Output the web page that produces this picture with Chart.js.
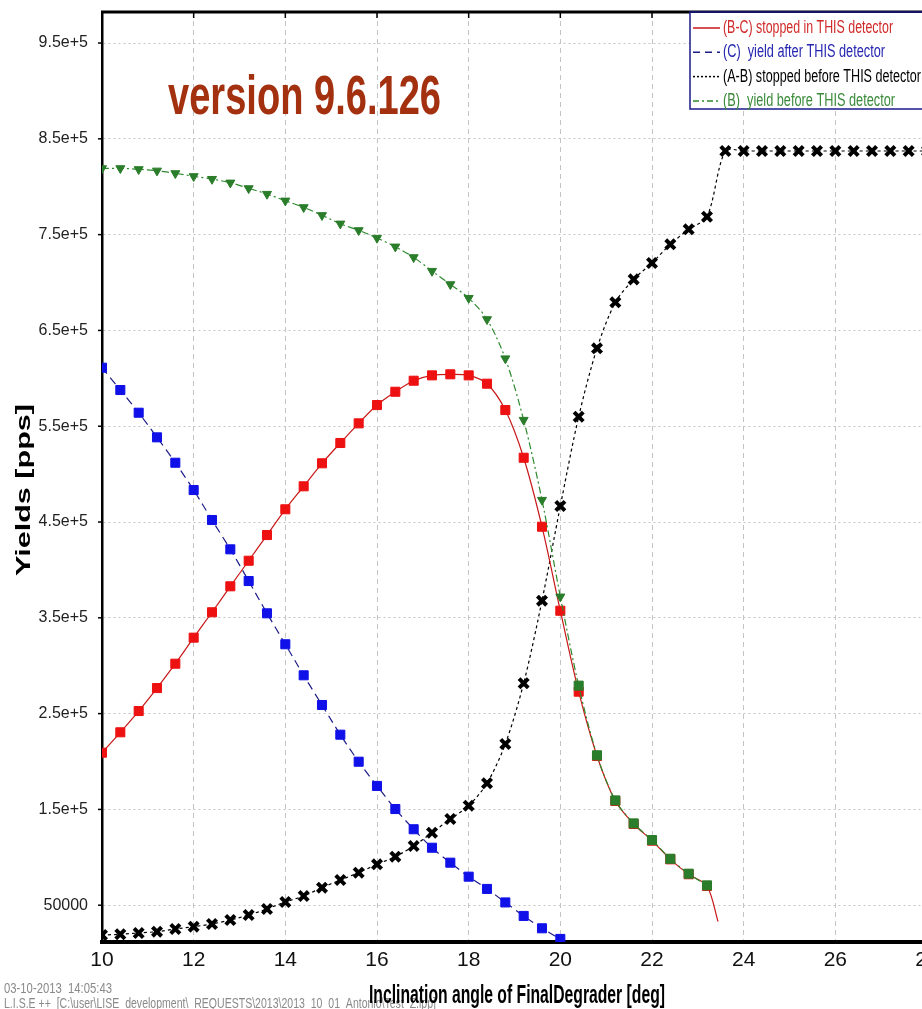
<!DOCTYPE html>
<html>
<head>
<meta charset="utf-8">
<script src="https://cdn.jsdelivr.net/npm/chart.js@4.4.1/dist/chart.umd.min.js"></script>
<style>
html, body { margin: 0; padding: 0; background: #fff; overflow: hidden; }
#wrap { position: relative; width: 960px; height: 1009px; }
</style>
</head>
<body>
<div id="wrap"><canvas id="yieldChart"></canvas></div>
<script>
// inclination angle of the degrader [deg], one point every 0.4 deg
var angles = [10, 10.4, 10.8, 11.2, 11.6, 12, 12.4, 12.8, 13.2, 13.6,
              14, 14.4, 14.8, 15.2, 15.6, 16, 16.4, 16.8, 17.2, 17.6,
              18, 18.4, 18.8, 19.2, 19.6, 20, 20.4, 20.8, 21.2, 21.6,
              22, 22.4, 22.8, 23.2, 23.6, 24, 24.4, 24.8, 25.2, 25.6,
              26, 26.4, 26.8, 27.2, 27.6, 28];

// (B-C) stopped in THIS detector
var stoppedIn = [209200, 230500, 252700, 276700, 302100, 329300, 355800, 382900, 409600, 436400,
                 463300, 487300, 511300, 532500, 553000, 572100, 586000, 597500, 603100, 604200,
                 603100, 594400, 566900, 517100, 445100, 357400, 272900, 205800, 158800, 134800,
                 117400, 97900, 82300, 70100];
var stoppedInEnd = [23.44, 33000]; // line end without marker

// (C) yield after THIS detector
var yieldAfter = [611100, 587800, 564100, 538400, 511900, 483400, 452100, 421500, 388400, 354700,
                  322400, 290000, 259000, 228000, 199800, 174500, 150400, 129300, 110000, 94400,
                  79800, 67000, 52900, 38800, 25900, 14800];

// (A-B) stopped before THIS detector
var stoppedBefore = [18900, 19700, 21000, 22400, 25200, 27600, 30400, 34600, 39800, 46100,
                     53400, 59600, 68300, 76300, 84000, 92700, 100700, 111800, 125700, 140000,
                     153900, 177300, 218300, 281700, 367900, 466700, 559900, 631300, 679300, 703300,
                     720400, 739900, 755500, 768700, 837300, 837300, 837300, 837300, 837300, 837300,
                     837300, 837300, 837300, 837300, 837300, 837300];

// (B) yield before THIS detector
var yieldBefore = [819200, 819200, 818200, 816700, 814000, 810900, 808000, 804200, 798300, 792400,
                   785400, 778500, 770200, 761400, 754500, 746500, 737400, 726300, 712000, 698100,
                   683800, 661600, 620700, 556500, 473000, 372100, 279200, 206500, 159400, 135400,
                   118000, 98500, 82900, 70700];

var yTicks = [50000, 150000, 250000, 350000, 450000, 550000, 650000, 750000, 850000, 950000];
var yTickLabels = ['50000', '1.5e+5', '2.5e+5', '3.5e+5', '4.5e+5', '5.5e+5', '6.5e+5', '7.5e+5', '8.5e+5', '9.5e+5'];

var NARROW = '"Liberation Sans Narrow", "Arial Narrow", "Liberation Sans", sans-serif';

function pairs(values) {
    return values.map(function (v, i) { return {x: angles[i], y: v}; });
}

var redData = pairs(stoppedIn);
redData.push({x: stoppedInEnd[0], y: stoppedInEnd[1]});
var redRadius = redData.map(function (p, i) { return i < stoppedIn.length ? 6.4 : 0; });

var greenStyle = yieldBefore.map(function (v, i) { return angles[i] <= 20 ? 'triangle' : 'rect'; });
var greenRot = yieldBefore.map(function (v, i) { return angles[i] <= 20 ? 180 : 0; });
var greenRadius = yieldBefore.map(function (v, i) { return angles[i] <= 20 ? 5.2 : 6.4; });

// draws text squeezed / stretched to a given width
function fitText(ctx, text, x, y, width, font, color, align) {
    ctx.save();
    ctx.font = font;
    ctx.fillStyle = color;
    ctx.textAlign = 'left';
    ctx.textBaseline = 'middle';
    var w = ctx.measureText(text).width;
    var s = width / w;
    ctx.translate(x, y);
    ctx.scale(s, 1);
    ctx.fillText(text, align === 'center' ? -w / 2 : 0, 0);
    ctx.restore();
}

var extras = {
    id: 'extras',
    afterDraw: function (chart) {
        var ctx = chart.ctx;
        var area = chart.chartArea;
        var xs = chart.scales.x, ys = chart.scales.y;

        // frame top + small tick marks
        ctx.save();
        ctx.strokeStyle = '#000';
        ctx.lineWidth = 3;
        ctx.beginPath();
        ctx.moveTo(area.left - 1, area.top);
        ctx.lineTo(chart.width, area.top);
        ctx.stroke();
        ctx.lineWidth = 1.5;
        xs.ticks.forEach(function (t) {
            var px = xs.getPixelForValue(t.value);
            ctx.beginPath();
            ctx.moveTo(px, area.top);
            ctx.lineTo(px, area.top + 6);
            ctx.stroke();
        });
        ys.ticks.forEach(function (t) {
            var py = ys.getPixelForValue(t.value);
            ctx.beginPath();
            ctx.moveTo(area.left - 4, py);
            ctx.lineTo(area.left, py);
            ctx.stroke();
        });
        ctx.restore();

        // version stamp
        fitText(ctx, 'version 9.6.126', 168, 99, 273, 'bold 56px "Liberation Sans", sans-serif', '#a3300f');

        // legend
        var lx = 690, ly = area.top, lh = 97;
        ctx.save();
        ctx.fillStyle = '#fff';
        ctx.fillRect(lx, ly + 1, chart.width - lx, lh);
        ctx.strokeStyle = '#1a1a8c';
        ctx.lineWidth = 1.5;
        ctx.strokeRect(lx, ly, chart.width - lx + 5, lh);
        ctx.restore();
        var legendOrder = [0, 1, 2, 3];
        var legendText = ['#d02a2a', '#2626b0', '#000', '#3a8a3a'];
        var legendWidth = [170, 162, 198, 172];
        legendOrder.forEach(function (di, row) {
            var ds = chart.data.datasets[di];
            var y = 28 + row * 24.3;
            ctx.save();
            ctx.strokeStyle = ds.borderColor;
            ctx.lineWidth = 1.5;
            ctx.setLineDash(ds.legendDash);
            ctx.beginPath();
            ctx.moveTo(693, y);
            ctx.lineTo(720, y);
            ctx.stroke();
            ctx.restore();
            fitText(ctx, ds.label, 723, y, legendWidth[row], '18px "Liberation Sans", sans-serif', legendText[row]);
        });

        // footer
        fitText(ctx, '03-10-2013  14:05:43', 4, 989, 108, '14px "Liberation Sans", sans-serif', '#8a8a8a');
        fitText(ctx, 'L.I.S.E ++  [C:\\user\\LISE_development\\_REQUESTS\\2013\\2013_10_01_Antonio\\Test_Z.lpp]', 4, 1004, 432, '14px "Liberation Sans", sans-serif', '#8a8a8a');

        // axis titles
        fitText(ctx, 'Inclination angle of FinalDegrader [deg]', 517, 996, 296, 'bold 25px "Liberation Sans", sans-serif', '#000', 'center');
        ctx.save();
        ctx.translate(24, 490);
        ctx.rotate(-Math.PI / 2);
        fitText(ctx, 'Yields [pps]', 0, 0, 172, 'bold 21px "Liberation Sans", sans-serif', '#000', 'center');
        ctx.restore();
    }
};

var ctx = document.getElementById('yieldChart');

var chartConfig = {
    type: 'line',
    data: {
        datasets: [{
            label: '(B-C) stopped in THIS detector',
            data: redData,
            borderColor: '#c81818',
            borderWidth: 1.2,
            pointStyle: 'rect',
            pointRadius: redRadius,
            pointBackgroundColor: '#ee1111',
            pointBorderColor: '#ee1111',
            pointBorderWidth: 1,
            tension: 0.3,
            legendDash: [],
            order: 1
        }, {
            label: '(C)  yield after THIS detector',
            data: pairs(yieldAfter),
            borderColor: '#1c1c88',
            borderWidth: 1.2,
            borderDash: [8, 5],
            pointStyle: 'rect',
            pointRadius: 6.4,
            pointBackgroundColor: '#1010e8',
            pointBorderColor: '#1010e8',
            pointBorderWidth: 1,
            tension: 0.3,
            legendDash: [7, 5],
            order: 2
        }, {
            label: '(A-B) stopped before THIS detector',
            data: pairs(stoppedBefore),
            borderColor: '#000',
            borderWidth: 1.2,
            borderDash: [3, 3],
            pointStyle: 'crossRot',
            pointRadius: 6.5,
            pointBorderColor: '#000',
            pointBorderWidth: 4,
            tension: 0.3,
            legendDash: [2, 2],
            order: 3
        }, {
            label: '(B)  yield before THIS detector',
            data: pairs(yieldBefore),
            borderColor: '#2e8a2e',
            borderWidth: 1.2,
            borderDash: [7, 3, 2, 3],
            pointStyle: greenStyle,
            rotation: greenRot,
            pointRadius: greenRadius,
            pointBackgroundColor: '#2a7d2a',
            pointBorderColor: '#2a7d2a',
            pointBorderWidth: 1,
            tension: 0.3,
            legendDash: [6, 3, 2, 3],
            order: 0
        }]
    },
    options: {
        animation: false,
        responsive: true,
        maintainAspectRatio: false,
        devicePixelRatio: 1,
        layout: { padding: { left: 0, top: 12, right: 33, bottom: 0 } },
        plugins: {
            legend: { display: false },
            tooltip: { enabled: false }
        },
        scales: {
            x: {
                type: 'linear',
                min: 10,
                max: 28,
                afterFit: function (scale) {
                    scale.height = 67;
                    scale.paddingLeft = 0;
                    scale.paddingRight = 0;
                },
                ticks: {
                    stepSize: 2,
                    padding: 6,
                    color: '#111',
                    font: { family: NARROW, size: 21 }
                },
                grid: { color: '#c4c4c4', lineWidth: 1, drawTicks: false },
                border: { color: '#000', width: 4, dash: [5, 4] }
            },
            y: {
                type: 'linear',
                min: 11600,
                max: 982400,
                afterFit: function (scale) {
                    scale.width = 102;
                    scale.paddingTop = 0;
                    scale.paddingBottom = 0;
                },
                afterBuildTicks: function (scale) {
                    scale.ticks = yTicks.map(function (v) { return {value: v}; });
                },
                ticks: {
                    padding: 14,
                    color: '#222',
                    font: { family: NARROW, size: 16 },
                    callback: function (value) {
                        var i = yTicks.indexOf(value);
                        return i >= 0 ? yTickLabels[i] : '';
                    }
                },
                grid: { color: '#c4c4c4', lineWidth: 1, drawTicks: false },
                border: { color: '#000', width: 2.5, dash: [2, 3] }
            }
        }
    },
    plugins: [extras]
};

var yieldChart = new Chart(ctx, chartConfig);
</script>
</body>
</html>
